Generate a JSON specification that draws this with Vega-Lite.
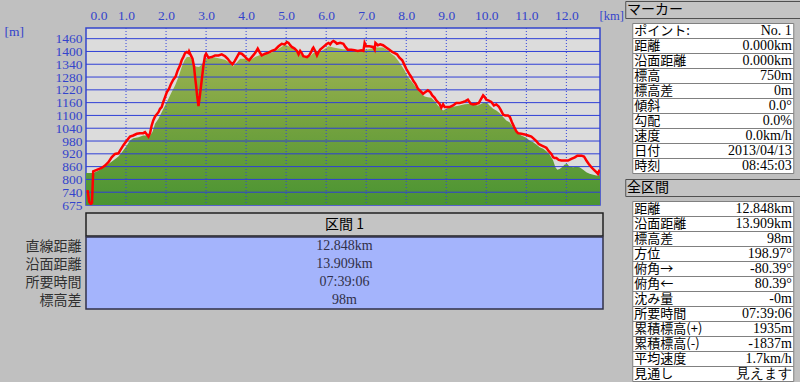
{
  "$schema": "https://vega.github.io/schema/vega-lite/v6.json",
  "background": "#c0c0c0",
  "padding": {"left": 2, "top": 0, "right": 0, "bottom": 0},
  "config": {"font": "Noto Sans CJK JP", "view": {"stroke": null}, "axis": {"labelOverlap": false}},
  "datasets": {
    "track": [
      {"km":0.04,"elev":745},{"km":0.08,"elev":690},{"km":0.12,"elev":680},{"km":0.15,"elev":685},{"km":0.18,"elev":834},
      {"km":0.27,"elev":841},{"km":0.39,"elev":850},{"km":0.475,"elev":861},{"km":0.56,"elev":877},{"km":0.64,"elev":900},
      {"km":0.725,"elev":916},{"km":0.81,"elev":919},{"km":0.85,"elev":932},{"km":0.93,"elev":956},{"km":1.02,"elev":979},
      {"km":1.10,"elev":998},{"km":1.18,"elev":1003},{"km":1.27,"elev":1011},{"km":1.35,"elev":1014},{"km":1.43,"elev":1014},
      {"km":1.475,"elev":1019},{"km":1.52,"elev":1008},{"km":1.56,"elev":998},{"km":1.60,"elev":1014},{"km":1.64,"elev":1050},
      {"km":1.68,"elev":1074},{"km":1.725,"elev":1093},{"km":1.81,"elev":1113},{"km":1.85,"elev":1129},{"km":1.89,"elev":1137},
      {"km":1.93,"elev":1161},{"km":1.975,"elev":1184},{"km":2.02,"elev":1208},{"km":2.075,"elev":1224},{"km":2.125,"elev":1247},
      {"km":2.18,"elev":1266},{"km":2.24,"elev":1282},{"km":2.29,"elev":1310},{"km":2.35,"elev":1334},{"km":2.39,"elev":1358},
      {"km":2.43,"elev":1373},{"km":2.475,"elev":1392},{"km":2.52,"elev":1397},{"km":2.56,"elev":1392},{"km":2.575,"elev":1400},
      {"km":2.62,"elev":1381},{"km":2.66,"elev":1366},{"km":2.70,"elev":1326},{"km":2.725,"elev":1279},{"km":2.75,"elev":1239},
      {"km":2.775,"elev":1192},{"km":2.81,"elev":1142},{"km":2.84,"elev":1184},{"km":2.875,"elev":1239},{"km":2.91,"elev":1295},
      {"km":2.94,"elev":1342},{"km":2.975,"elev":1381},{"km":3.0,"elev":1389},{"km":3.06,"elev":1370},{"km":3.14,"elev":1373},
      {"km":3.225,"elev":1381},{"km":3.31,"elev":1381},{"km":3.39,"elev":1386},{"km":3.475,"elev":1377},{"km":3.54,"elev":1365},
      {"km":3.60,"elev":1350},{"km":3.66,"elev":1339},{"km":3.71,"elev":1353},{"km":3.77,"elev":1373},{"km":3.825,"elev":1392},
      {"km":3.89,"elev":1389},{"km":3.96,"elev":1377},{"km":4.02,"elev":1365},{"km":4.075,"elev":1358},{"km":4.14,"elev":1373},
      {"km":4.225,"elev":1392},{"km":4.29,"elev":1413},{"km":4.35,"elev":1392},{"km":4.39,"elev":1381},{"km":4.475,"elev":1389},
      {"km":4.56,"elev":1394},{"km":4.64,"elev":1402},{"km":4.725,"elev":1408},{"km":4.81,"elev":1424},{"km":4.89,"elev":1436},
      {"km":4.96,"elev":1433},{"km":5.02,"elev":1444},{"km":5.06,"elev":1440},{"km":5.10,"elev":1429},{"km":5.14,"elev":1421},
      {"km":5.21,"elev":1413},{"km":5.27,"elev":1402},{"km":5.31,"elev":1386},{"km":5.35,"elev":1402},{"km":5.39,"elev":1392},
      {"km":5.43,"elev":1377},{"km":5.52,"elev":1373},{"km":5.575,"elev":1381},{"km":5.625,"elev":1397},{"km":5.66,"elev":1413},
      {"km":5.68,"elev":1418},{"km":5.725,"elev":1402},{"km":5.77,"elev":1381},{"km":5.81,"elev":1397},{"km":5.85,"elev":1408},
      {"km":5.93,"elev":1421},{"km":6.02,"elev":1436},{"km":6.06,"elev":1440},{"km":6.10,"elev":1433},{"km":6.14,"elev":1444},
      {"km":6.18,"elev":1449},{"km":6.225,"elev":1444},{"km":6.27,"elev":1436},{"km":6.35,"elev":1440},{"km":6.43,"elev":1436},
      {"km":6.48,"elev":1421},{"km":6.54,"elev":1408},{"km":6.625,"elev":1408},{"km":6.71,"elev":1405},{"km":6.79,"elev":1402},
      {"km":6.875,"elev":1405},{"km":6.93,"elev":1402},{"km":6.96,"elev":1440},{"km":7.0,"elev":1424},{"km":7.08,"elev":1424},
      {"km":7.17,"elev":1421},{"km":7.21,"elev":1408},{"km":7.23,"elev":1440},{"km":7.29,"elev":1429},{"km":7.35,"elev":1433},
      {"km":7.42,"elev":1429},{"km":7.5,"elev":1418},{"km":7.58,"elev":1408},{"km":7.65,"elev":1397},{"km":7.71,"elev":1392},
      {"km":7.77,"elev":1386},{"km":7.83,"elev":1370},{"km":7.9,"elev":1358},{"km":7.96,"elev":1334},{"km":8.0,"elev":1318},
      {"km":8.07,"elev":1295},{"km":8.125,"elev":1279},{"km":8.18,"elev":1260},{"km":8.23,"elev":1247},{"km":8.29,"elev":1224},
      {"km":8.35,"elev":1213},{"km":8.42,"elev":1200},{"km":8.48,"elev":1208},{"km":8.54,"elev":1216},{"km":8.6,"elev":1208},
      {"km":8.65,"elev":1192},{"km":8.71,"elev":1181},{"km":8.75,"elev":1168},{"km":8.79,"elev":1161},{"km":8.83,"elev":1153},
      {"km":8.875,"elev":1134},{"km":8.92,"elev":1150},{"km":8.96,"elev":1137},{"km":9.02,"elev":1137},{"km":9.08,"elev":1137},
      {"km":9.17,"elev":1145},{"km":9.25,"elev":1156},{"km":9.33,"elev":1156},{"km":9.42,"elev":1161},{"km":9.48,"elev":1165},
      {"km":9.54,"elev":1172},{"km":9.61,"elev":1153},{"km":9.67,"elev":1150},{"km":9.75,"elev":1153},{"km":9.81,"elev":1156},
      {"km":9.86,"elev":1172},{"km":9.92,"elev":1192},{"km":9.96,"elev":1184},{"km":10.0,"elev":1172},{"km":10.06,"elev":1168},
      {"km":10.125,"elev":1161},{"km":10.19,"elev":1145},{"km":10.25,"elev":1150},{"km":10.31,"elev":1140},{"km":10.36,"elev":1124},
      {"km":10.42,"elev":1102},{"km":10.475,"elev":1097},{"km":10.54,"elev":1097},{"km":10.59,"elev":1090},{"km":10.64,"elev":1066},
      {"km":10.69,"elev":1045},{"km":10.75,"elev":1023},{"km":10.79,"elev":1014},{"km":10.875,"elev":1011},{"km":10.96,"elev":1008},
      {"km":11.04,"elev":1003},{"km":11.125,"elev":998},{"km":11.19,"elev":987},{"km":11.25,"elev":976},{"km":11.31,"elev":963},
      {"km":11.375,"elev":956},{"km":11.44,"elev":951},{"km":11.5,"elev":945},{"km":11.56,"elev":929},{"km":11.625,"elev":916},
      {"km":11.67,"elev":900},{"km":11.71,"elev":897},{"km":11.75,"elev":897},{"km":11.81,"elev":888},{"km":11.875,"elev":885},
      {"km":11.96,"elev":885},{"km":12.04,"elev":885},{"km":12.125,"elev":893},{"km":12.21,"elev":900},{"km":12.275,"elev":908},
      {"km":12.375,"elev":908},{"km":12.44,"elev":904},{"km":12.5,"elev":885},{"km":12.56,"elev":869},{"km":12.625,"elev":853},
      {"km":12.69,"elev":841},{"km":12.75,"elev":830},{"km":12.79,"elev":822},{"km":12.83,"elev":841}
    ],
    "terrain": [
      {"km":0,"elev":826},{"km":0.18,"elev":826},{"km":0.31,"elev":837},{"km":0.43,"elev":853},{"km":0.56,"elev":869},
      {"km":0.68,"elev":885},{"km":0.81,"elev":904},{"km":0.93,"elev":932},{"km":1.02,"elev":956},{"km":1.10,"elev":979},
      {"km":1.18,"elev":990},{"km":1.31,"elev":995},{"km":1.43,"elev":1003},{"km":1.60,"elev":1003},{"km":1.66,"elev":1019},
      {"km":1.725,"elev":1058},{"km":1.81,"elev":1082},{"km":1.89,"elev":1113},{"km":1.975,"elev":1145},{"km":2.06,"elev":1176},
      {"km":2.14,"elev":1208},{"km":2.225,"elev":1239},{"km":2.31,"elev":1279},{"km":2.39,"elev":1326},{"km":2.46,"elev":1358},
      {"km":2.52,"elev":1373},{"km":2.60,"elev":1373},{"km":2.68,"elev":1350},{"km":2.74,"elev":1329},{"km":2.825,"elev":1326},
      {"km":2.91,"elev":1342},{"km":2.99,"elev":1365},{"km":3.10,"elev":1365},{"km":3.20,"elev":1372},{"km":3.31,"elev":1368},
      {"km":3.475,"elev":1361},{"km":3.60,"elev":1345},{"km":3.67,"elev":1329},{"km":3.74,"elev":1342},{"km":3.85,"elev":1365},
      {"km":3.975,"elev":1365},{"km":4.10,"elev":1358},{"km":4.225,"elev":1373},{"km":4.39,"elev":1386},{"km":4.56,"elev":1389},
      {"km":4.725,"elev":1402},{"km":4.85,"elev":1417},{"km":4.975,"elev":1433},{"km":5.10,"elev":1421},{"km":5.225,"elev":1405},
      {"km":5.35,"elev":1389},{"km":5.475,"elev":1370},{"km":5.60,"elev":1377},{"km":5.68,"elev":1392},{"km":5.81,"elev":1392},
      {"km":5.93,"elev":1408},{"km":6.06,"elev":1424},{"km":6.18,"elev":1418},{"km":6.31,"elev":1413},{"km":6.42,"elev":1410},
      {"km":6.58,"elev":1408},{"km":6.75,"elev":1405},{"km":6.92,"elev":1405},{"km":7.08,"elev":1411},{"km":7.25,"elev":1418},
      {"km":7.42,"elev":1418},{"km":7.54,"elev":1405},{"km":7.625,"elev":1389},{"km":7.71,"elev":1377},{"km":7.79,"elev":1358},
      {"km":7.875,"elev":1334},{"km":7.96,"elev":1310},{"km":8.04,"elev":1279},{"km":8.125,"elev":1260},{"km":8.21,"elev":1239},
      {"km":8.29,"elev":1216},{"km":8.375,"elev":1200},{"km":8.46,"elev":1187},{"km":8.54,"elev":1184},{"km":8.625,"elev":1181},
      {"km":8.71,"elev":1165},{"km":8.79,"elev":1145},{"km":8.875,"elev":1129},{"km":8.92,"elev":1121},{"km":9.0,"elev":1129},
      {"km":9.08,"elev":1137},{"km":9.21,"elev":1140},{"km":9.33,"elev":1145},{"km":9.46,"elev":1150},{"km":9.54,"elev":1152},
      {"km":9.67,"elev":1150},{"km":9.79,"elev":1145},{"km":9.92,"elev":1156},{"km":10.0,"elev":1161},{"km":10.08,"elev":1145},
      {"km":10.17,"elev":1129},{"km":10.25,"elev":1121},{"km":10.33,"elev":1109},{"km":10.42,"elev":1090},{"km":10.5,"elev":1074},
      {"km":10.58,"elev":1066},{"km":10.67,"elev":1042},{"km":10.75,"elev":1019},{"km":10.875,"elev":1003},{"km":11.0,"elev":992},
      {"km":11.08,"elev":979},{"km":11.17,"elev":971},{"km":11.25,"elev":960},{"km":11.33,"elev":948},{"km":11.42,"elev":940},
      {"km":11.5,"elev":929},{"km":11.58,"elev":913},{"km":11.67,"elev":885},{"km":11.725,"elev":853},{"km":11.775,"elev":841},
      {"km":11.83,"elev":845},{"km":11.89,"elev":853},{"km":11.96,"elev":866},{"km":12.025,"elev":869},{"km":12.08,"elev":856},
      {"km":12.17,"elev":853},{"km":12.25,"elev":856},{"km":12.33,"elev":853},{"km":12.42,"elev":841},{"km":12.5,"elev":830},
      {"km":12.58,"elev":822},{"km":12.67,"elev":818},{"km":12.75,"elev":814},{"km":12.848,"elev":814}
    ],
    "ygrid": [
      {"v":735.385},{"v":795.769},{"v":856.154},{"v":916.538},{"v":976.923},{"v":1037.308},
      {"v":1097.692},{"v":1158.077},{"v":1218.462},{"v":1278.846},{"v":1339.231},{"v":1399.615},{"v":1460}
    ],
    "xgrid": [{"v":1},{"v":2},{"v":3},{"v":4},{"v":5},{"v":6},{"v":7},{"v":8},{"v":9},{"v":10},{"v":11},{"v":12}],
    "section": [
      {"label":"直線距離","value":"12.848km"},
      {"label":"沿面距離","value":"13.909km"},
      {"label":"所要時間","value":"07:39:06"},
      {"label":"標高差","value":"98m"}
    ],
    "marker": [
      {"label":"ポイント:","value":"No. 1"},
      {"label":"距離","value":"0.000km"},
      {"label":"沿面距離","value":"0.000km"},
      {"label":"標高","value":"750m"},
      {"label":"標高差","value":"0m"},
      {"label":"傾斜","value":"0.0°"},
      {"label":"勾配","value":"0.0%"},
      {"label":"速度","value":"0.0km/h"},
      {"label":"日付","value":"2013/04/13"},
      {"label":"時刻","value":"08:45:03"}
    ],
    "total": [
      {"label":"距離","value":"12.848km"},
      {"label":"沿面距離","value":"13.909km"},
      {"label":"標高差","value":"98m"},
      {"label":"方位","value":"198.97°"},
      {"label":"俯角→","value":"-80.39°"},
      {"label":"俯角←","value":"80.39°"},
      {"label":"沈み量","value":"-0m"},
      {"label":"所要時間","value":"07:39:06"},
      {"label":"累積標高(+)","value":"1935m"},
      {"label":"累積標高(-)","value":"-1837m"},
      {"label":"平均速度","value":"1.7km/h"},
      {"label":"見通し","value":"見えます"}
    ]
  },
  "spacing": 0,
  "hconcat": [
    {
      "spacing": 0,
      "vconcat": [
        {
          "width": 514,
          "height": 22,
          "data": {"values": []},
          "mark": "point",
          "encoding": {
            "x": {"field": "km", "type": "quantitative", "scale": {"domain": [0, 12.84], "nice": false, "zero": false},
              "axis": {"orient": "bottom", "values": [0,1,2,3,4,5,6,7,8,9,10,11,12], "format": ".1f",
                "labelFont": "Liberation Serif", "labelFontSize": 13.5, "labelColor": "#3344cc", "labelBaseline": "middle",
                "ticks": false, "domain": false, "grid": false, "labelPadding": -8, "labelOverlap": false,
                "labelFlush": true, "labelFlushOffset": -4,
                "title": "[km]", "titleFont": "Liberation Serif", "titleFontSize": 12.5, "titleFontWeight": "normal",
                "titleColor": "#3344cc", "titleAngle": 0, "titleAlign": "left", "titleBaseline": "middle",
                "titleX": 513, "titleY": -8}}
          }
        },
        {
          "spacing": -12,
          "vconcat": [
            {
              "width": 514,
              "height": 177,
              "view": {"fill": "#dcdcdc", "stroke": "#3344cc", "strokeWidth": 1.5},
              "resolve": {"axis": {"x": "independent", "y": "independent"}},
              "layer": [
                {
                  "data": {"name": "terrain"},
                  "mark": {"type": "area", "clip": true, "color": {"gradient": "linear", "x1": 0, "y1": 0, "x2": 0, "y2": 1,
                    "stops": [{"offset": 0, "color": "#a3b653"}, {"offset": 0.5, "color": "#74a23f"}, {"offset": 1, "color": "#4a9432"}]}},
                  "encoding": {
                    "x": {"field": "km", "type": "quantitative", "scale": {"domain": [0, 12.84], "nice": false, "zero": false}, "axis": null},
                    "y": {"field": "elev", "type": "quantitative", "scale": {"domain": [675, 1510.3], "nice": false, "zero": false},
                      "axis": {"values": [675,735.385,795.769,856.154,916.538,976.923,1037.308,1097.692,1158.077,1218.462,1278.846,1339.231,1399.615,1460],
                        "labelExpr": "datum.value < 700 ? '675' : format(round(datum.value/10 + 0.45)*10, 'd')",
                        "labelFont": "Liberation Serif", "labelFontSize": 13.5, "labelColor": "#3344cc",
                        "ticks": false, "domain": false, "grid": false, "labelPadding": 4, "labelOverlap": false, "labelFlush": false,
                        "title": "[m]", "titleFont": "Liberation Serif", "titleFontSize": 13.5, "titleFontWeight": "normal",
                        "titleColor": "#3344cc", "titleAngle": 0, "titleAlign": "left", "titleBaseline": "middle",
                        "titleX": -82, "titleY": 3}},
                    "y2": {"datum": 675}
                  }
                },
                {
                  "data": {"name": "ygrid"},
                  "mark": {"type": "rule", "color": "#2f3fd6", "strokeWidth": 1},
                  "encoding": {"y": {"field": "v", "type": "quantitative", "axis": null}}
                },
                {
                  "data": {"name": "xgrid"},
                  "mark": {"type": "rule", "color": "#3344dd", "strokeWidth": 1, "strokeDash": [1, 2]},
                  "encoding": {"x": {"field": "v", "type": "quantitative", "axis": null}}
                },
                {
                  "data": {"name": "track"},
                  "mark": {"type": "line", "color": "#ff0000", "strokeWidth": 2.5, "clip": true},
                  "encoding": {
                    "x": {"field": "km", "type": "quantitative", "axis": null},
                    "y": {"field": "elev", "type": "quantitative", "axis": null}
                  }
                }
              ]
            },
            {
              "spacing": -2,
              "vconcat": [
                {
                  "width": 517,
                  "height": 23,
                  "data": {"values": [{"name": "区間 1"}]},
                  "view": {"fill": "#c4c4c4", "stroke": "#202020", "strokeWidth": 1.5},
                  "mark": {"type": "text", "font": "Noto Sans CJK JP", "fontSize": 14, "color": "#000000"},
                  "encoding": {
                    "text": {"field": "name"},
                    "y": {"field": "name", "type": "nominal",
                      "axis": {"labels": false, "ticks": false, "domain": false, "title": null, "minExtent": 83, "maxExtent": 83}}
                  }
                },
                {
                  "width": 517,
                  "height": 72,
                  "data": {"name": "section"},
                  "view": {"fill": "#a4b4fc", "stroke": "#303048", "strokeWidth": 1.5},
                  "mark": {"type": "text", "font": "Liberation Serif", "fontSize": 14, "color": "#303048"},
                  "encoding": {
                    "text": {"field": "value"},
                    "y": {"field": "label", "type": "nominal", "sort": null,
                      "axis": {"title": null, "ticks": false, "domain": false, "labelFont": "Noto Sans CJK JP",
                        "labelFontSize": 14, "labelColor": "#303030", "labelPadding": 5, "minExtent": 83, "maxExtent": 83}}
                  }
                }
              ]
            }
          ]
        }
      ]
    },
    {
      "spacing": 3.5,
      "center": true,
      "vconcat": [
        {
          "width": 176,
          "height": 17,
          "data": {"values": [{"name": "マーカー"}]},
          "view": {"fill": "#c4c4c4", "stroke": "#505050"},
          "mark": {"type": "text", "align": "left", "font": "Noto Sans CJK JP", "fontSize": 14, "color": "#000000"},
          "encoding": {
            "text": {"field": "name"},
            "x": {"datum": 0, "type": "quantitative", "scale": {"domain": [-0.01, 1], "nice": false, "zero": false}, "axis": null}
          }
        },
        {
          "width": 161,
          "height": 150,
          "data": {"name": "marker"},
          "encoding": {
            "y": {"field": "label", "type": "nominal", "sort": null, "axis": null, "scale": {"paddingInner": 0, "paddingOuter": 0}}
          },
          "layer": [
            {"mark": {"type": "rect", "fill": "#ffffff", "stroke": "#808080", "strokeWidth": 1}},
            {"mark": {"type": "text", "align": "left", "font": "Noto Sans CJK JP", "fontSize": 13, "color": "#000000"},
             "encoding": {"text": {"field": "label"}, "x": {"datum": 0, "type": "quantitative", "scale": {"domain": [-0.01, 1.012], "nice": false, "zero": false}, "axis": null}}},
            {"mark": {"type": "text", "align": "right", "font": "Liberation Serif", "fontSize": 14, "color": "#000000"},
             "encoding": {"text": {"field": "value"}, "x": {"datum": 1, "type": "quantitative"}}}
          ]
        },
        {
          "width": 176,
          "height": 17,
          "data": {"values": [{"name": "全区間"}]},
          "view": {"fill": "#c4c4c4", "stroke": "#505050"},
          "mark": {"type": "text", "align": "left", "font": "Noto Sans CJK JP", "fontSize": 14, "color": "#000000"},
          "encoding": {
            "text": {"field": "name"},
            "x": {"datum": 0, "type": "quantitative", "scale": {"domain": [-0.01, 1], "nice": false, "zero": false}, "axis": null}
          }
        },
        {
          "width": 161,
          "height": 180,
          "data": {"name": "total"},
          "encoding": {
            "y": {"field": "label", "type": "nominal", "sort": null, "axis": null, "scale": {"paddingInner": 0, "paddingOuter": 0}}
          },
          "layer": [
            {"mark": {"type": "rect", "fill": "#ffffff", "stroke": "#808080", "strokeWidth": 1}},
            {"mark": {"type": "text", "align": "left", "font": "Noto Sans CJK JP", "fontSize": 13, "color": "#000000"},
             "encoding": {"text": {"field": "label"}, "x": {"datum": 0, "type": "quantitative", "scale": {"domain": [-0.01, 1.012], "nice": false, "zero": false}, "axis": null}}},
            {"mark": {"type": "text", "align": "right", "font": "Liberation Serif", "fontSize": 14, "color": "#000000"},
             "encoding": {"text": {"field": "value"}, "x": {"datum": 1, "type": "quantitative"}}}
          ]
        }
      ]
    }
  ]
}
